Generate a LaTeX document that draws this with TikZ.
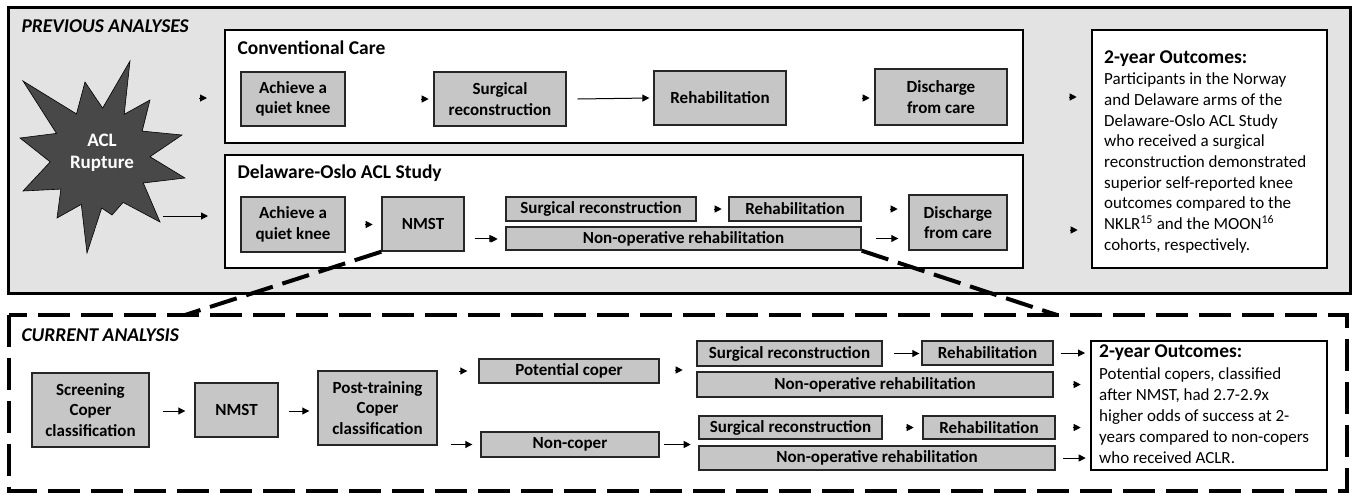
\documentclass[tikz,border=0pt]{standalone}
\usepackage{fontspec}
\setmainfont{Carlito}
\usetikzlibrary{arrows.meta}
\definecolor{prevgray}{HTML}{E3E3E3}
\definecolor{boxgray}{HTML}{C6C6C6}
\definecolor{stargray}{HTML}{484848}
\begin{document}
\begin{tikzpicture}[x=1pt,y=-1pt,
  gbox/.style={draw=black!85, line width=1.4pt, fill=boxgray, inner sep=0pt, align=center,
    font=\bfseries\fontsize{17}{20.5}\selectfont},
  panel/.style={draw=black, line width=2.4pt, fill=white},
  arr/.style={-{Triangle[length=7pt,width=7pt]}, line width=1pt},
  bigdash/.style={line width=4pt, dash pattern=on 32pt off 11pt},
  sectitle/.style={anchor=west, font=\bfseries\itshape\fontsize{19.5}{22}\selectfont},
  paneltitle/.style={anchor=west, font=\bfseries\fontsize{19.5}{22}\selectfont},
  outtext/.style={anchor=north west, align=left, inner sep=0pt}
]
\useasboundingbox (0,0) rectangle (1355,496);

% ---------------- PREVIOUS ANALYSES ----------------
\draw[line width=3pt, fill=prevgray] (8,7) rectangle (1350,293);
\node[sectitle] (prevt) at (18,26) {PREVIOUS ANALYSES};

\draw[panel] (225,30) rectangle (1023,143);
\draw[panel] (225,155) rectangle (1023,268);
\draw[panel] (1092,30) rectangle (1327,268);
\node[paneltitle] (convt) at (234,48) {Conventional Care};
\node[paneltitle] (deot) at (234,173) {Delaware-Oslo ACL Study};

% ACL star
\fill[stargray, draw=black, line width=0.6pt]
  (23,81) -- (76.5,113.9) -- (85,82) -- (102.6,108.1) -- (130,61) -- (124.2,114.3)
  -- (150,100) -- (142.2,131.1) -- (182,135) -- (150,156.7) -- (185,178) -- (143.3,183)
  -- (160,222) -- (123.1,202.4) -- (112,215) -- (101.7,208) -- (87,253) -- (81.3,204.4)
  -- (57,218) -- (60.9,189.1) -- (23,191) -- (50.2,161.9) -- (20,138) -- (56.5,133.4) -- cycle;
\node[text=white, align=center, font=\bfseries\fontsize{19}{22}\selectfont] (acl) at (102,153) {ACL\\Rupture};

% Conventional care row
\node[gbox, minimum width=104pt, minimum height=54pt] (c1) at (293,99) {Achieve a\\quiet knee};
\node[gbox, minimum width=132pt, minimum height=54pt] (c2) at (500,99) {Surgical\\reconstruction};
\node[gbox, minimum width=132pt, minimum height=54pt] (c3) at (720,98) {Rehabilitation};
\node[gbox, minimum width=132pt, minimum height=56pt] (c4) at (941,97) {Discharge\\from care};

% Delaware-Oslo row
\node[gbox, minimum width=104pt, minimum height=55pt] (d1) at (293,224.5) {Achieve a\\quiet knee};
\node[gbox, minimum width=82pt, minimum height=54pt] (d2) at (423,224) {NMST};
\node[gbox, minimum width=190pt, minimum height=24pt] (d3) at (601,209) {Surgical reconstruction};
\node[gbox, minimum width=132pt, minimum height=24pt] (d4) at (795,209) {Rehabilitation};
\node[gbox, minimum width=355pt, minimum height=23pt] (d5) at (683.5,238.5) {Non-operative rehabilitation};
\node[gbox, minimum width=98pt, minimum height=55pt] (d6) at (958,222.5) {Discharge\\from care};

% outcomes 1
\node[outtext, font=\fontsize{17}{20.7}\selectfont] (o1) at (1104,51) {{\bfseries\fontsize{19.5}{22}\selectfont 2-year Outcomes:}\\
Participants in the Norway\\
and Delaware arms of the\\
Delaware-Oslo ACL Study\\
who received a surgical\\
reconstruction demonstrated\\
superior self-reported knee\\
outcomes compared to the\\
NKLR\textsuperscript{15} and the MOON\textsuperscript{16}\\
cohorts, respectively.};

% top arrows
\coordinate (a1s) at (199,98);   \coordinate (a1e) at (207,98);
\draw[arr] (a1s) -- (a1e);
\draw[arr] ([xshift=75pt]c1.east) -- ([xshift=83pt]c1.east);
\draw[arr] ([xshift=11pt]c2.east) -- ([xshift=-4pt]c3.west);
\draw[arr] ([xshift=75pt]c3.east) -- ([xshift=83pt]c3.east);
\draw[arr] ([xshift=61pt]c4.east) -- ([xshift=69pt]c4.east);
\coordinate (a2s) at (163,216); \coordinate (a2e) at (208,216);
\draw[arr] (a2s) -- (a2e);
\draw[arr] ([xshift=19pt]d1.east) -- ([xshift=27pt]d1.east);
\draw[arr] ([xshift=25pt,yshift=-15pt]d2.east) -- ([xshift=33pt,yshift=-15pt]d2.east);
\draw[arr] ([xshift=10pt]d2.east |- d5.west) -- ([xshift=-9pt]d5.west);
\draw[arr] ([xshift=17pt]d3.east) -- ([xshift=25pt]d3.east);
\draw[arr] ([xshift=28pt]d4.east) -- ([xshift=36pt]d4.east);
\draw[arr] ([xshift=14pt]d5.east) -- ([xshift=-10pt]d6.west |- d5.east);
\draw[arr] ([xshift=62pt,yshift=-7.5pt]d6.east) -- ([xshift=70pt,yshift=-7.5pt]d6.east);

% ---------------- CURRENT ANALYSIS ----------------
\draw[bigdash] (9,315) rectangle (1347,491);
\node[sectitle] (curt) at (18,335) {CURRENT ANALYSIS};

\coordinate (z1) at (185,315);
\coordinate (z2) at (1057,315);
\draw[bigdash, dash pattern=on 28pt off 10pt] (d2.south west) -- (z1);
\draw[bigdash, dash pattern=on 28pt off 10pt] (d5.south east) -- (z2);

\node[gbox, minimum width=117pt, minimum height=74pt] (s1) at (90.5,410) {Screening\\Coper\\classification};
\node[gbox, minimum width=83pt, minimum height=54pt] (s2) at (236.5,410) {NMST};
\node[gbox, minimum width=119pt, minimum height=74pt] (s3) at (377.5,408) {Post-training\\Coper\\classification};
\node[gbox, minimum width=180pt, minimum height=24pt] (p1) at (569,371) {Potential coper};
\node[gbox, minimum width=178pt, minimum height=25pt] (p2) at (570,444.5) {Non-coper};

\node[gbox, minimum width=185pt, minimum height=25pt] (u1) at (789.5,353.5) {Surgical reconstruction};
\node[gbox, minimum width=131pt, minimum height=24pt] (u2) at (987.5,353) {Rehabilitation};
\node[gbox, minimum width=356pt, minimum height=25pt] (u3) at (875,384.5) {Non-operative rehabilitation};
\node[gbox, minimum width=183pt, minimum height=23pt] (l1) at (790.5,427.5) {Surgical reconstruction};
\node[gbox, minimum width=132pt, minimum height=23pt] (l2) at (989,427.5) {Rehabilitation};
\node[gbox, minimum width=356pt, minimum height=24pt] (l3) at (877,458) {Non-operative rehabilitation};

\draw[line width=1.6pt, fill=white] (1091,341) rectangle (1327,470);
\node[outtext, font=\fontsize{17}{21.2}\selectfont] (o2) at (1099,345) {{\bfseries\fontsize{19.5}{22}\selectfont 2-year Outcomes:}\\
Potential copers, classified\\
after NMST, had 2.7-2.9x\\
higher odds of success at 2-\\
years compared to non-copers\\
who received ACLR.};
\coordinate (o2in) at (1085,353);

% bottom arrows
\draw[arr] ([xshift=13pt]s1.east |- 0,411) -- ([xshift=-9pt]s2.west |- 0,411);
\draw[arr] ([xshift=10pt]s2.east |- 0,411) -- ([xshift=-8pt]s3.west |- 0,411);
\draw[arr] ([xshift=-19pt]p1.west) -- ([xshift=-11pt]p1.west);
\draw[arr] ([xshift=13pt]s3.east |- p2.west) -- ([xshift=-8pt]p2.west);
\draw[arr] ([xshift=15pt]p1.east |- 0,370) -- ([xshift=23pt]p1.east |- 0,370);
\draw[arr] ([xshift=4pt]p2.east) -- ([xshift=31pt]p2.east);
\draw[arr] ([xshift=11pt]u1.east) -- ([xshift=-2pt]u2.west |- u1.east);
\draw[arr] ([xshift=7pt]u2.east) -- (o2in);
\draw[arr] ([xshift=19pt]u3.east) -- ([xshift=27pt]u3.east);
\draw[arr] ([xshift=23pt]l1.east) -- ([xshift=31pt]l1.east);
\draw[arr] ([xshift=17pt]l2.east) -- ([xshift=25pt]l2.east);
\draw[arr] ([xshift=7pt]l3.east) -- ([xshift=30pt]l3.east);
\end{tikzpicture}
\end{document}
